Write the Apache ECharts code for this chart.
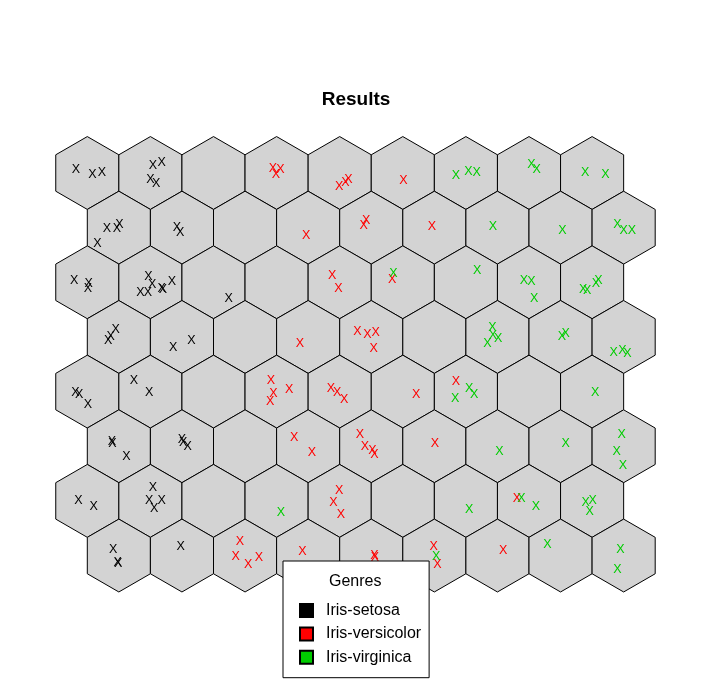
<!DOCTYPE html>
<html>
<head>
<meta charset="utf-8">
<script src="https://cdn.jsdelivr.net/npm/echarts@6/dist/echarts.min.js"></script>
<style>html,body{margin:0;padding:0;background:#fff;}#main{width:712px;height:691px;}</style>
</head>
<body>
<div id="main"></div>
<script>
// SOM grid dimensions (hexagonal, 9 columns x 8 rows)
const GRID_COLS = 9;
const GRID_ROWS = 8;
const chartTitle = 'Results';
const legendTitle = 'Genres';
const genres = ['Iris-setosa', 'Iris-versicolor', 'Iris-virginica'];
const genreColors = ['#000000', '#FF0000', '#00CD00'];

// Each sample: [column, row from top, jitter x, jitter y] (jitter in cell-spacing units, y up)
const setosa = [
  [0,0,-0.18,0.06],[0,0,0.08,-0.03],[0,0,0.23,0.01],
  [1,0,0.04,0.12],[1,0,0.18,0.16],[1,0,0.00,-0.11],[1,0,0.09,-0.17],
  [0,1,-0.19,-0.02],[0,1,-0.03,-0.02],[0,1,0.01,0.05],[0,1,-0.34,-0.25],
  [1,1,-0.08,0.00],[1,1,-0.03,-0.07],
  [0,2,-0.21,0.03],[0,2,0.02,-0.02],[0,2,0.01,-0.10],
  [1,2,-0.03,0.09],[1,2,0.03,-0.03],[1,2,-0.16,-0.17],[1,2,-0.04,-0.16],[1,2,0.18,-0.10],[1,2,0.20,-0.12],[1,2,0.34,0.01],
  [2,2,0.24,-0.26],
  [0,3,-0.05,0.11],[0,3,-0.13,0.00],[0,3,-0.17,-0.06],
  [1,3,-0.14,-0.16],[1,3,0.15,-0.06],
  [0,4,-0.19,-0.01],[0,4,-0.13,-0.04],[0,4,0.01,-0.21],
  [1,4,-0.26,0.17],[1,4,-0.02,-0.02],
  [0,5,-0.11,0.08],[0,5,-0.10,0.05],[0,5,0.12,-0.16],
  [1,5,0.00,0.11],[1,5,0.02,0.06],[1,5,0.09,-0.01],
  [0,6,-0.14,0.00],[0,6,0.10,-0.09],
  [1,6,0.04,0.21],[1,6,-0.02,0.01],[1,6,0.06,-0.12],[1,6,0.18,0.00],
  [0,7,-0.09,0.09],[0,7,-0.02,-0.11],[0,7,-0.01,-0.12],
  [1,7,-0.02,0.15]
];
const versicolor = [
  [3,0,-0.06,0.07],[3,0,0.06,0.06],[3,0,-0.01,-0.03],
  [4,0,-0.01,-0.22],[4,0,0.09,-0.15],[4,0,0.14,-0.11],
  [5,0,0.01,-0.12],
  [3,1,-0.03,-0.13],
  [4,1,-0.12,0.04],[4,1,-0.08,0.11],
  [5,1,-0.04,0.02],
  [4,2,-0.12,0.11],[4,2,-0.02,-0.10],
  [5,2,-0.17,0.04],
  [3,3,-0.13,-0.10],
  [4,3,-0.22,0.08],[4,3,-0.06,0.04],[4,3,0.07,0.07],[4,3,0.04,-0.19],
  [3,4,-0.09,0.17],[3,4,-0.05,-0.03],[3,4,-0.10,-0.16],[3,4,0.20,0.04],
  [4,4,-0.14,0.05],[4,4,-0.04,-0.02],[4,4,0.07,-0.12],
  [5,4,0.21,-0.04],
  [6,4,-0.16,0.16],
  [3,5,-0.22,0.14],[3,5,0.06,-0.10],
  [4,5,-0.18,0.18],[4,5,-0.10,0.00],[4,5,0.02,-0.07],[4,5,0.05,-0.13],
  [5,5,0.01,0.05],
  [4,6,-0.01,0.16],[4,6,-0.10,-0.02],[4,6,0.02,-0.21],
  [7,6,-0.19,0.03],
  [2,7,-0.08,0.22],[2,7,-0.15,-0.01],[2,7,0.05,-0.15],[2,7,0.22,-0.03],
  [3,7,-0.09,0.07],
  [4,7,0.05,0.00],[4,7,0.06,-0.03],
  [5,7,-0.01,0.15],[5,7,0.05,-0.15],
  [6,7,0.09,0.08]
];
const virginica = [
  [6,0,-0.16,-0.04],[6,0,0.04,0.02],[6,0,0.17,0.01],
  [7,0,0.04,0.13],[7,0,0.12,0.05],
  [8,0,-0.11,0.00],[8,0,0.21,-0.02],
  [6,1,-0.07,0.01],
  [7,1,0.03,-0.04],
  [8,1,-0.10,0.05],[8,1,0.00,-0.05],[8,1,0.13,-0.05],
  [5,2,-0.15,0.14],
  [6,2,0.18,0.19],
  [7,2,-0.08,0.02],[7,2,0.04,0.01],[7,2,0.08,-0.26],
  [8,2,-0.14,-0.12],[8,2,-0.08,-0.13],[8,2,0.06,-0.02],[8,2,0.10,0.02],
  [6,3,-0.08,0.15],[6,3,-0.07,0.02],[6,3,0.01,-0.03],[6,3,-0.16,-0.11],
  [7,3,0.02,0.00],[7,3,0.08,0.06],
  [8,3,-0.16,-0.24],[8,3,-0.02,-0.21],[8,3,0.06,-0.27],
  [6,4,-0.17,-0.11],[6,4,0.05,0.05],[6,4,0.13,-0.04],
  [8,4,0.05,-0.02],
  [6,5,0.03,-0.09],
  [7,5,0.08,0.05],
  [8,5,-0.03,0.19],[8,5,-0.11,-0.09],[8,5,-0.01,-0.30],
  [3,6,0.07,-0.18],
  [6,6,0.05,-0.13],
  [7,6,-0.12,0.04],[7,6,0.11,-0.09],
  [8,6,-0.10,-0.02],[8,6,0.01,0.01],[8,6,-0.04,-0.17],
  [5,7,0.03,-0.02],
  [7,7,-0.21,0.18],
  [8,7,-0.05,0.10],[8,7,-0.10,-0.22]
];

const ROW_H = Math.sqrt(3) / 2;
const HEX_R = 1 / Math.sqrt(3);
function cellCenter(col, row) {
  const off = (row % 2 === 1) ? 0.5 : 0;
  return [col + off, (GRID_ROWS - 1 - row) * ROW_H];
}
const cells = [];
for (let r = 0; r < GRID_ROWS; r++) for (let c = 0; c < GRID_COLS; c++) cells.push(cellCenter(c, r));
function toPoints(arr) {
  return arr.map(p => { const cc = cellCenter(p[0], p[1]); return [cc[0] + p[2], cc[1] + p[3]]; });
}

const FONT = '"Liberation Sans", Arial, Helvetica, sans-serif';
const chart = echarts.init(document.getElementById('main'), null, {renderer: 'canvas'});

function pointSeries(name, arr, color) {
  return {
    name: name, type: 'custom', coordinateSystem: 'cartesian2d',
    itemStyle: {color: color, borderColor: '#000', borderWidth: 1},
    data: toPoints(arr),
    renderItem: function (params, api) {
      const p = api.coord([api.value(0), api.value(1)]);
      return {
        type: 'text',
        style: {
          text: 'X', x: p[0], y: p[1],
          fill: color, align: 'center', verticalAlign: 'middle',
          font: '12.5px "Liberation Sans Narrow", "Liberation Sans", Arial, sans-serif'
        }
      };
    },
    z: 3
  };
}

const option = {
  backgroundColor: '#ffffff',
  animation: false,
  title: {
    text: chartTitle, left: 'center', top: 90, padding: 0,
    textStyle: {fontSize: 19, fontWeight: 'bold', color: '#000', fontFamily: FONT}
  },
  grid: {left: 55.75, width: 599.45, top: 135.14, height: 458.27, containLabel: false},
  xAxis: {type: 'value', min: -0.5, max: 9, show: false},
  yAxis: {type: 'value', min: -0.6, max: (GRID_ROWS - 1) * ROW_H + 0.6, show: false},
  legend: {
    data: genres, orient: 'vertical', left: 283, top: 561,
    padding: [41.5, 8, 12.4, 16], itemWidth: 13, itemHeight: 13, itemGap: 7.4,
    icon: 'rect', backgroundColor: '#fff', borderColor: '#000', borderWidth: 1, borderRadius: 0,
    selectedMode: false,
    textStyle: {fontSize: 16, color: '#000', fontFamily: FONT, padding: [0, 0, 0, 8]}
  },
  graphic: [{
    type: 'text', left: 355 - 26, top: 574, z: 100,
    style: {text: legendTitle, font: '16px ' + FONT, fill: '#000'}
  }],
  series: [
    {
      name: 'units', type: 'custom', coordinateSystem: 'cartesian2d', data: cells, silent: true,
      renderItem: function (params, api) {
        const cx = api.value(0), cy = api.value(1);
        const pts = [];
        for (let k = 0; k < 6; k++) {
          const a = (90 + 60 * k) * Math.PI / 180;
          pts.push(api.coord([cx + HEX_R * Math.cos(a), cy + HEX_R * Math.sin(a)]));
        }
        return {type: 'polygon', shape: {points: pts}, style: {fill: '#D3D3D3', stroke: '#000', lineWidth: 1}};
      },
      z: 1
    },
    pointSeries(genres[0], setosa, genreColors[0]),
    pointSeries(genres[1], versicolor, genreColors[1]),
    pointSeries(genres[2], virginica, genreColors[2])
  ]
};
chart.setOption(option);
</script>
</body>
</html>
